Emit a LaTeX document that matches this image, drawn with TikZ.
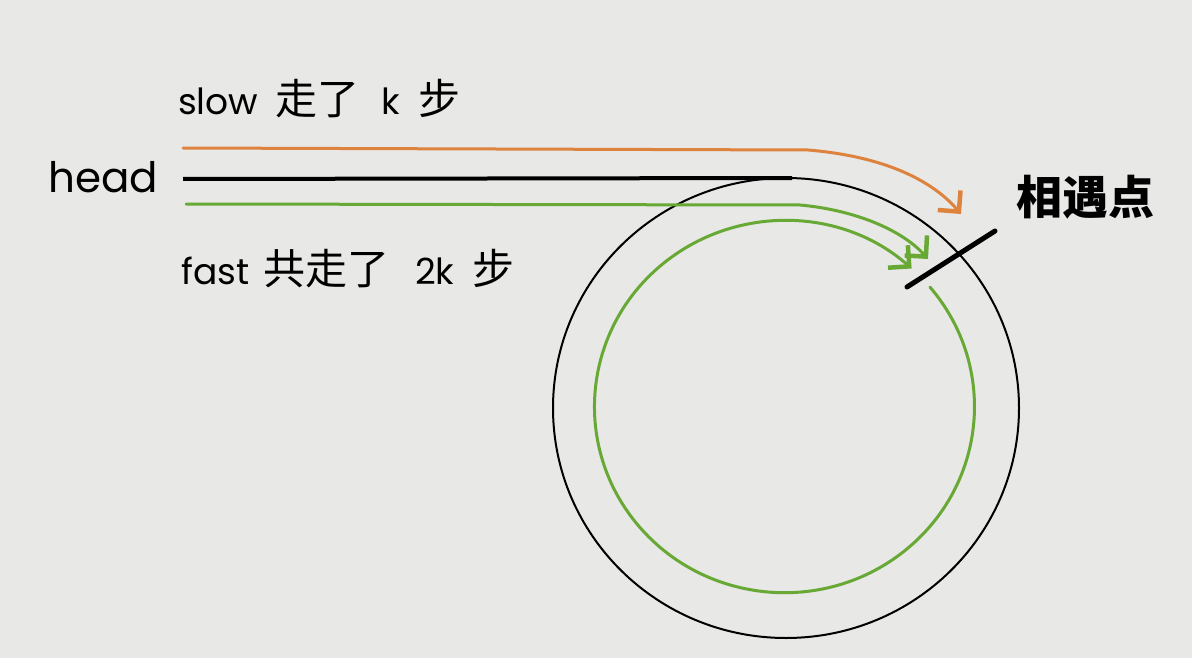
\documentclass[tikz,border=0pt]{standalone}
\usepackage{fontspec}
\setmainfont{Poppins}
\newfontfamily\cjk{Noto Sans CJK SC}
\usetikzlibrary{arrows.meta}
\definecolor{bg}{RGB}{232,232,230}
\definecolor{orangeln}{RGB}{221,131,62}
\definecolor{greenln}{RGB}{104,168,52}
\newcommand{\zh}[1]{{\fontsize{42}{42}\selectfont\cjk #1}}
\tikzset{
  lbl/.style={anchor=west, inner sep=0pt, font=\fontsize{36}{36}\selectfont},
  barb/.style={-{Straight Barb[length=15pt,width=30pt,line width=4.5pt]}},
  ln/.style={line width=3pt, line cap=round},
}
\begin{document}
\begin{tikzpicture}[x=1pt,y=-1pt]
\fill[bg] (0,0) rectangle (1192,658);
\useasboundingbox (0,0) rectangle (1192,658);
% circle
\draw[line width=2pt] (786,408) ellipse [x radius=233, y radius=230];
% labels
\node[lbl] (head) at (48,177) {\fontsize{42}{42}\selectfont head};
\node[lbl] (slow) at (178,99) {slow\hspace{17pt}\zh{走了}\hspace{22pt}k\hspace{19pt}\zh{步}};
\node[lbl] (fast) at (181,269) {fast\hspace{14pt}\zh{共走了}\hspace{26pt}2k\hspace{18pt}\zh{步}};
\node[anchor=center, inner sep=0pt, font=\fontsize{46}{46}\selectfont\cjk\bfseries] (meet) at (1085,197) {相遇点};
% start / end coordinates
\coordinate (os) at (183,148);
\coordinate (om) at (808,150);
\coordinate (oe) at (961,214);
\coordinate (bs) at (183,179);
\coordinate (be) at (792,178);
\coordinate (gs) at (186,204);
\coordinate (gm) at (800,205);
\coordinate (ge) at (928,259);
\coordinate (t1) at (907,287);
\coordinate (t2) at (995,231);
% head line
\draw[line width=4pt] (bs) -- (be);
% slow path
\draw[ln, orangeln, barb] (os) -- (om) .. controls (880,156) and (930,178) .. (oe);
% fast outer path
\draw[ln, greenln, barb] (gs) -- (gm) .. controls (855,210) and (902,230) .. (ge);
% fast inner loop
\draw[ln, greenln, barb] (786,408) ++(-40:188) arc[start angle=-40, end angle=312, x radius=190, y radius=186];
% meeting tick
\draw[line width=5pt, line cap=round] (t1) -- (t2);
\end{tikzpicture}
\end{document}
